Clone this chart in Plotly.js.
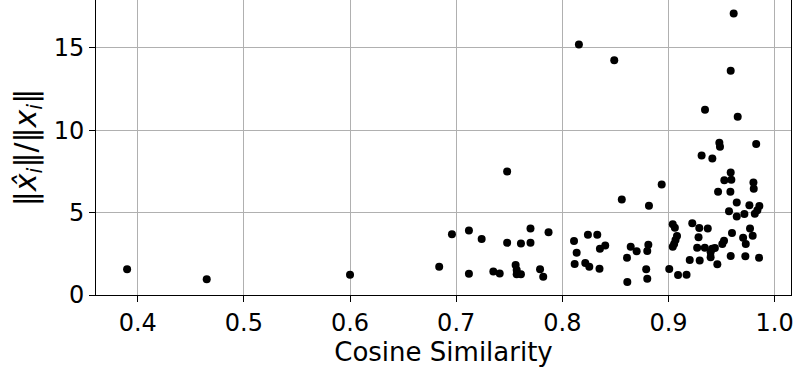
<!DOCTYPE html>
<html>
<head>
<meta charset="utf-8">
<script src="https://cdn.plot.ly/plotly-3.0.1.min.js"></script>
<style>
  body { margin: 0; padding: 0; background: #fff; }
  #plot { width: 797px; height: 367px; }
</style>
</head>
<body>
<div id="plot"></div>
<script>
// cosine similarity vs. norm ratio
var cosSim = [
  0.390, 0.465, 0.600,
  0.684, 0.696, 0.712, 0.712, 0.724, 0.735, 0.741, 0.748, 0.748, 0.756, 0.757, 0.757,
  0.761, 0.761, 0.770, 0.770, 0.779, 0.782, 0.787,
  0.811, 0.8135, 0.8116, 0.8216, 0.8254, 0.8241, 0.8329, 0.835, 0.8354, 0.8404, 0.8156, 0.8489,
  0.856, 0.8816, 0.8936, 0.8644, 0.870, 0.8609, 0.8612, 0.881, 0.880, 0.879, 0.880,
  0.9007, 0.904, 0.906, 0.908, 0.9066, 0.9053, 0.904, 0.909, 0.917, 0.9224, 0.929, 0.937,
  0.920, 0.9294, 0.927, 0.9342, 0.9411, 0.9437, 0.9397, 0.9397, 0.9283, 0.9523, 0.9507,
  0.946, 0.9586, 0.9724, 0.9853, 0.9598, 0.9768, 0.9793, 0.9703, 0.9728, 0.9643, 0.9715,
  0.9813, 0.957, 0.9643, 0.9762, 0.9856, 0.9837, 0.9467, 0.9583, 0.980, 0.9803, 0.9526,
  0.9592, 0.9586, 0.9312, 0.9413, 0.9479, 0.9485, 0.9826, 0.9344, 0.9652, 0.9586, 0.9614
];
var normRatio = [
  1.56, 0.95, 1.23,
  1.72, 3.68, 3.92, 1.29, 3.40, 1.42, 1.31, 7.50, 3.17, 1.82, 1.52, 1.26,
  1.26, 3.13, 3.17, 4.04, 1.56, 1.11, 3.80,
  3.27, 2.57, 1.88, 1.94, 1.72, 3.66, 3.66, 1.60, 2.81, 3.01, 15.20, 14.25,
  5.80, 5.42, 6.71, 2.93, 2.65, 2.26, 0.79, 3.05, 2.67, 1.56, 0.99,
  1.58, 4.29, 4.08, 3.58, 3.34, 3.09, 2.93, 1.21, 1.23, 4.35, 4.06, 4.04,
  2.12, 2.10, 2.87, 2.87, 2.81, 2.85, 2.59, 2.29, 3.50, 3.29, 3.09,
  1.86, 2.36, 2.35, 2.26, 3.76, 4.04, 3.60, 3.48, 3.09, 4.77, 4.91,
  4.93, 5.08, 5.62, 5.44, 5.40, 5.15, 6.26, 6.26, 6.83, 6.45, 6.96,
  6.99, 7.44, 8.47, 8.29, 9.24, 9.00, 9.16, 11.24, 10.81, 13.60, 17.08
];
var xTicks = [0.4, 0.5, 0.6, 0.7, 0.8, 0.9, 1.0];
var xTickText = ["0.4", "0.5", "0.6", "0.7", "0.8", "0.9", "1.0"];
var yTicks = [0, 5, 10, 15];

var trace = {
  x: cosSim,
  y: normRatio,
  type: "scatter",
  mode: "markers",
  marker: { color: "black", size: 8 },
  hoverinfo: "x+y"
};

var font = "DejaVu Sans, sans-serif";

var layout = {
  width: 797,
  height: 367,
  margin: { l: 96, r: 6, t: 0, b: 72 },
  paper_bgcolor: "white",
  plot_bgcolor: "white",
  showlegend: false,
  font: { family: font, color: "black", size: 24 },
  xaxis: {
    range: [0.3607, 1.0154],
    tickvals: xTicks,
    ticktext: xTickText,
    ticks: "outside",
    ticklen: 6,
    tickcolor: "black",
    tickfont: { size: 24 },
    showgrid: true,
    gridcolor: "#b0b0b0",
    gridwidth: 1,
    zeroline: false,
    showline: true,
    linecolor: "black",
    linewidth: 1,
    mirror: true,
    title: { text: "Cosine Similarity", font: { size: 26 }, standoff: 6 }
  },
  yaxis: {
    range: [0, 17.9],
    tickvals: yTicks,
    ticks: "outside",
    ticklen: 6,
    tickcolor: "black",
    tickfont: { size: 24 },
    showgrid: true,
    gridcolor: "#b0b0b0",
    gridwidth: 1,
    zeroline: false,
    showline: true,
    linecolor: "black",
    linewidth: 1,
    mirror: true,
    title: {
      text: "\u2016<i>x\u0302</i><sub><i>i</i></sub>\u2016/\u2016<i>x</i><sub><i>i</i></sub>\u2016",
      font: { size: 30 },
      standoff: 8
    }
  }
};

Plotly.newPlot("plot", [trace], layout, { displayModeBar: false, staticPlot: true });
</script>
</body>
</html>
